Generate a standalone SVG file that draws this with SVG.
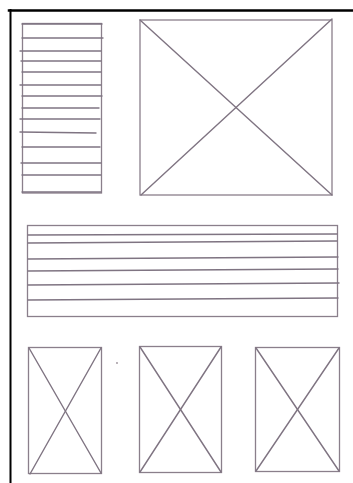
<svg xmlns="http://www.w3.org/2000/svg" width="353" height="483" viewBox="0 0 353 483">
<style>
.s{fill:none;stroke:#8a7f8b;stroke-width:1.3;stroke-linecap:round}
.h{fill:none;stroke:#7f7482;stroke-width:1.4;stroke-linecap:round}
.b{fill:none;stroke:#000;stroke-linecap:square}
</style>
<rect width="353" height="483" fill="#fff"/>
<g id="frame">
<line class="b" x1="9" y1="10.5" x2="353" y2="10.5" stroke-width="2.5"/>
<line class="b" x1="10.5" y1="10" x2="10.5" y2="483" stroke-width="2"/>
</g>
<g id="list-left">
<rect class="s" x="22.5" y="23.5" width="79" height="169.5"/>
<line class="h" x1="22" y1="24" x2="102" y2="24"/>
<line class="h" x1="22" y1="38" x2="103" y2="38"/>
<line class="h" x1="20" y1="51" x2="101" y2="51"/>
<line class="h" x1="21" y1="61" x2="101" y2="61"/>
<line class="h" x1="22" y1="72" x2="101" y2="72"/>
<line class="h" x1="20" y1="85" x2="101" y2="85"/>
<line class="h" x1="22" y1="96" x2="102" y2="96"/>
<line class="h" x1="22" y1="108" x2="99" y2="108"/>
<line class="h" x1="20" y1="119" x2="100" y2="119"/>
<line class="h" x1="20" y1="132" x2="96" y2="133"/>
<line class="h" x1="22" y1="147" x2="100" y2="147"/>
<line class="h" x1="21" y1="163" x2="101" y2="163"/>
<line class="h" x1="22" y1="175" x2="101" y2="175"/>
<line class="h" x1="22" y1="192" x2="101" y2="192"/>
</g>
<g id="image-main">
<rect class="s" x="140" y="20" width="192" height="175"/>
<line class="h" x1="140" y1="20" x2="332" y2="195"/>
<line class="h" x1="332" y1="19" x2="141" y2="195"/>
</g>
<g id="text-block">
<rect class="s" x="27.5" y="225.5" width="310" height="91"/>
<line class="h" x1="28" y1="235" x2="337" y2="234"/>
<line class="h" x1="28" y1="243" x2="337" y2="241"/>
<line class="h" x1="28" y1="259" x2="338" y2="257"/>
<line class="h" x1="28" y1="271" x2="338" y2="269"/>
<line class="h" x1="28" y1="285" x2="339" y2="283"/>
<line class="h" x1="28" y1="300" x2="338" y2="298"/>
</g>
<g id="thumb-1">
<rect class="s" x="28.5" y="347.5" width="73" height="126"/>
<line class="h" x1="29" y1="348" x2="101" y2="473"/>
<line class="h" x1="101" y1="348" x2="30" y2="474"/>
</g>
<g id="thumb-2">
<rect class="s" x="139.5" y="346.5" width="82" height="126"/>
<line class="h" x1="140" y1="347" x2="221" y2="472"/>
<line class="h" x1="221" y1="347" x2="140" y2="472"/>
</g>
<g id="thumb-3">
<rect class="s" x="255.5" y="347.5" width="84" height="124"/>
<line class="h" x1="256" y1="348" x2="339" y2="471"/>
<line class="h" x1="339" y1="348" x2="256" y2="471"/>
</g>
<circle cx="117" cy="363" r="0.9" fill="#9a8f98"/>
</svg>
